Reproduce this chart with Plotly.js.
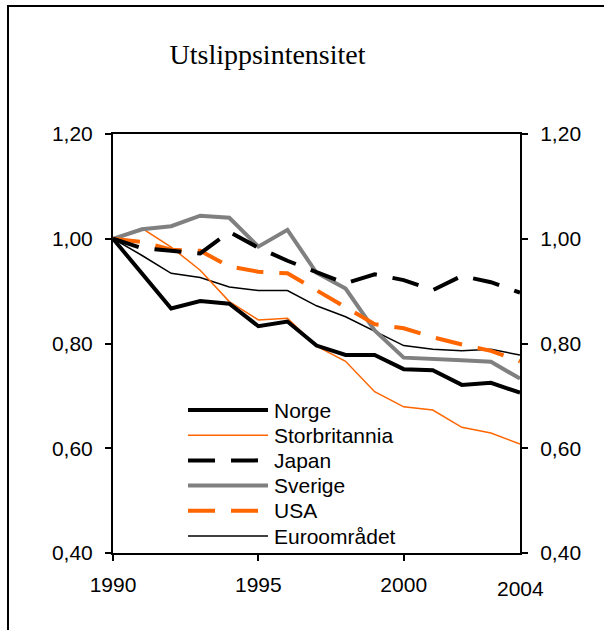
<!DOCTYPE html>
<html>
<head>
<meta charset="utf-8">
<script src="https://cdn.plot.ly/plotly-3.0.1.min.js"></script>
<style>html,body{margin:0;padding:0;background:#fff;}</style>
</head>
<body>
<div id="chart" style="width:604px;height:630px;"></div>
<script>
const years = [1990,1991,1992,1993,1994,1995,1996,1997,1998,1999,2000,2001,2002,2003,2004];
const norge = [1.00,0.933,0.867,0.881,0.876,0.833,0.842,0.796,0.778,0.778,0.751,0.749,0.721,0.725,0.706];
const storbritannia = [1.00,1.020,0.984,0.940,0.880,0.845,0.848,0.795,0.766,0.708,0.679,0.673,0.640,0.629,0.608];
const japan = [1.00,0.982,0.977,0.972,1.013,0.983,0.958,0.937,0.915,0.932,0.921,0.902,0.929,0.917,0.897];
const sverige = [1.00,1.018,1.024,1.044,1.040,0.985,1.017,0.935,0.905,0.825,0.773,0.771,0.768,0.765,0.733];
const usa = [1.00,0.994,0.979,0.977,0.947,0.937,0.934,0.902,0.870,0.837,0.829,0.812,0.798,0.786,0.766];
const euro = [1.00,0.968,0.934,0.926,0.908,0.901,0.901,0.872,0.851,0.823,0.796,0.789,0.786,0.789,0.778];
const seriesNames = ["Norge","Storbritannia","Japan","Sverige","USA","Euroområdet"];
const xTickVals = [1990,1995,2000];
const xLastLabel = "2004";
const yTickVals = [0.4,0.6,0.8,1.0,1.2];
const titleText = "Utslippsintensitet";

const W = 604, H = 630;
const M = {l:113, r:84, t:134, b:77};
const PW = W - M.l - M.r, PH = H - M.t - M.b;
const px2x = p => (p - M.l) / PW;
const py2y = p => (H - M.b - p) / PH;

const styles = [
  {color:'#000000', width:4, dash:'solid'},
  {color:'#FF6600', width:1.5, dash:'solid'},
  {color:'#000000', width:4, dash:'27px,16px'},
  {color:'#808080', width:4, dash:'solid'},
  {color:'#FF6600', width:4, dash:'27px,16px'},
  {color:'#000000', width:1.5, dash:'solid'}
];
const data = [norge, storbritannia, japan, sverige, usa, euro];
// draw order: back to front
const order = [5,1,3,4,2,0];
const traces = order.map(i => ({
  x: years, y: data[i], type:'scatter', mode:'lines', name: seriesNames[i],
  line: {color: styles[i].color, width: styles[i].width, dash: styles[i].dash},
  hoverinfo:'skip', showlegend:false
}));
// invisible trace on right axis so it is drawn
traces.push({x:[years[0]], y:[data[0][0]], yaxis:'y2', type:'scatter', mode:'lines',
  line:{width:0}, showlegend:false, hoverinfo:'skip'});

const font = {family:'"Liberation Sans", Arial, sans-serif', size:21, color:'#000'};

const shapes = [
  // outer frame
  {type:'rect', xref:'paper', yref:'paper', x0:px2x(8), x1:px2x(700), y0:py2y(700), y1:py2y(6),
   line:{color:'#000', width:2}, fillcolor:'rgba(0,0,0,0)', layer:'below'}
];
const annotations = [];
const legY0 = 410, legStep = 25.2;
seriesNames.forEach((n, i) => {
  const py = legY0 + i*legStep;
  shapes.push({type:'line', xref:'paper', yref:'paper', x0:px2x(188), x1:px2x(268), y0:py2y(py), y1:py2y(py),
    line:{color:styles[i].color, width:styles[i].width, dash:styles[i].dash}});
  annotations.push({xref:'paper', yref:'paper', x:px2x(272), y:py2y(py), xanchor:'left', yanchor:'middle',
    text:n, showarrow:false, font:font});
});
annotations.push({xref:'x', yref:'paper', x:2004, y:py2y(575), xanchor:'center', yanchor:'top',
  text:xLastLabel, showarrow:false, font:font});

const layout = {
  width:W, height:H,
  margin:M,
  paper_bgcolor:'#fff', plot_bgcolor:'#fff',
  separators:', ',
  showlegend:false,
  title:{text:titleText, font:{family:'"Liberation Serif", "Times New Roman", serif', size:28, color:'#000'},
    xref:'container', yref:'container', x:267.5/W, xanchor:'center', y:1-54/H, yanchor:'middle'},
  xaxis:{range:[1990,2004], tickvals:xTickVals, ticks:'outside', ticklen:6, tickwidth:2, tickcolor:'#000',
    showline:true, linewidth:2, linecolor:'#000', mirror:true, showgrid:false, zeroline:false,
    tickfont:font, ticklabelstandoff:6, fixedrange:true},
  yaxis:{range:[0.4,1.2], tickvals:yTickVals, tickformat:'.2f', ticks:'outside', ticklen:6, tickwidth:2, tickcolor:'#000',
    showline:true, linewidth:2, linecolor:'#000', showgrid:false, zeroline:false, tickfont:font, ticklabelstandoff:8, fixedrange:true},
  yaxis2:{range:[0.4,1.2], tickvals:yTickVals, tickformat:'.2f', overlaying:'y', side:'right', ticks:'outside', ticklen:6, tickwidth:2, tickcolor:'#000',
    showline:true, linewidth:2, linecolor:'#000', showgrid:false, zeroline:false, tickfont:font, ticklabelstandoff:8, fixedrange:true},
  shapes:shapes,
  annotations:annotations
};
Plotly.newPlot('chart', traces, layout, {staticPlot:true, displayModeBar:false});
</script>
</body>
</html>
